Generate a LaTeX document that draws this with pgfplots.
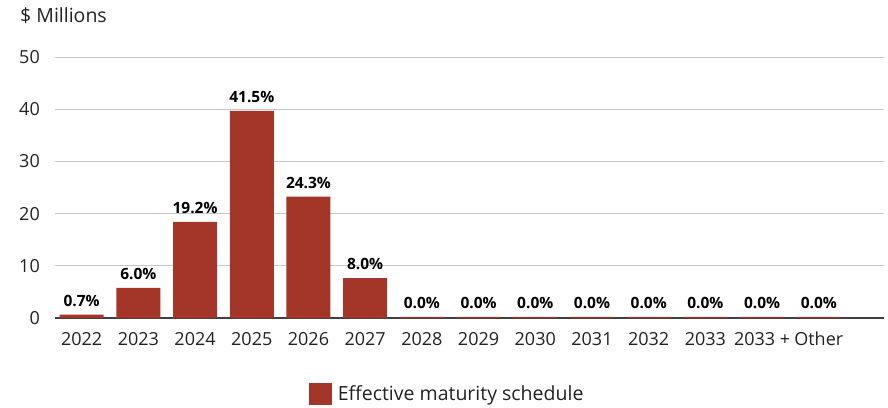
\documentclass[border=0pt]{standalone}
\usepackage{fontspec}
\setmainfont{Open Sans}
\usepackage{pgfplots}
\usepackage{pgfplotstable}
\pgfplotsset{compat=1.18}
\definecolor{barred}{RGB}{163,54,40}
\definecolor{txt}{RGB}{34,34,34}
\pgfplotstableread{
x y label
0 0.67 0.7
1 5.75 6.0
2 18.4 19.2
3 39.7 41.5
4 23.25 24.3
5 7.65 8.0
6 0.2 0.0
7 0.2 0.0
8 0.2 0.0
9 0.2 0.0
10 0.2 0.0
11 0.2 0.0
12 0.2 0.0
13 0.2 0.0
}\datatable
\begin{document}
\begin{tikzpicture}[x=1pt,y=1pt]
\path (0,0) rectangle (888,407);
\node[anchor=west, inner sep=0pt, text=txt, font=\fontsize{19.5}{23}\selectfont] at (20,391) {\$ Millions};
\begin{axis}[
  at={(55pt,89pt)}, anchor=south west,
  scale only axis, width=829pt, height=261pt,
  xmin=-0.47, xmax=14.15, ymin=0, ymax=50,
  axis x line*=bottom, axis y line*=left,
  x axis line style={-, draw=black!75, line width=1.6pt},
  y axis line style={draw=none},
  major tick length=0pt,
  ytick={0,10,20,30,40,50},
  xtick={0,...,13},
  xticklabels={2022,2023,2024,2025,2026,2027,2028,2029,2030,2031,2032,2033,2033 +,Other},
  ymajorgrids, grid style={color=black!22, line width=1pt},
  tick label style={text=txt, font=\fontsize{18}{21}\selectfont},
  /pgf/number format/assume math mode=true,
  yticklabel style={inner sep=0pt, anchor=east, xshift=-15pt},
  xticklabel style={inner sep=0pt, anchor=north, yshift=-14pt},
  legend style={at={(0.473,-0.291)}, anchor=center, draw=none, fill=none,
    font=\fontsize{19.5}{23}\selectfont, text=txt, inner sep=0pt},
  legend image code/.code={\fill[#1] (0pt,-11pt) rectangle (23pt,11pt);},
  legend cell align=left,
  clip=false,
]
\addplot[ybar, bar width=0.776, fill=barred, draw=none, bar shift=0pt,
  nodes near coords={\pgfplotspointmeta\%},
  point meta=explicit symbolic,
  every node near coord/.style={font=\bfseries\fontsize{15.5}{18}\selectfont, text=black, anchor=south, inner sep=0pt, yshift=8pt}]
  table[x=x, y=y, meta=label] {\datatable};
\addlegendentry{\hspace{4pt}Effective maturity schedule}
\end{axis}
\end{tikzpicture}
\end{document}
